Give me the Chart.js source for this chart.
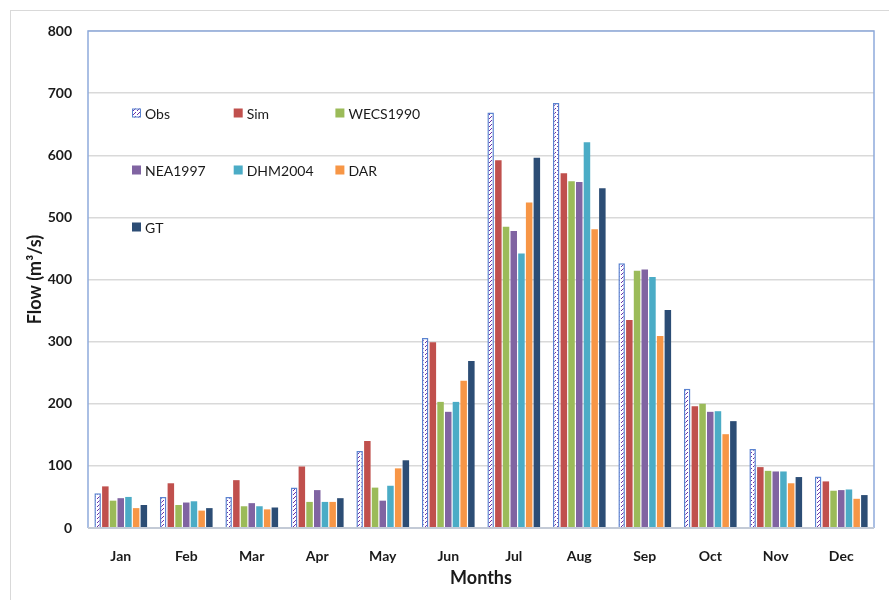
<!DOCTYPE html>
<html>
<head>
<meta charset="utf-8">
<script src="https://cdn.jsdelivr.net/npm/chart.js@4.4.0/dist/chart.umd.min.js"></script>
<style>
    html, body { margin: 0; padding: 0; background: #fff; }
    #wrap { position: relative; width: 889px; height: 600px; overflow: hidden; }
    #frame { position: absolute; left: 10px; top: 10px; width: 900px; height: 620px; border: 1px solid #d9d9d9; }
    canvas { position: absolute; left: 0; top: 0; }
</style>
</head>
<body>
<div id="wrap">
    <div id="frame"></div>
    <canvas id="flowChart" width="889" height="600"></canvas>
</div>
<script>
const months = ['Jan', 'Feb', 'Mar', 'Apr', 'May', 'Jun', 'Jul', 'Aug', 'Sep', 'Oct', 'Nov', 'Dec'];

const obs      = [56, 50, 50, 65, 124, 306, 669, 684, 426, 224, 127, 83];
const sim      = [67, 72, 77, 99, 140, 299, 592, 571, 335, 196, 98, 75];
const wecs1990 = [44, 37, 35, 42, 65, 203, 485, 558, 414, 200, 92, 60];
const nea1997  = [48, 41, 40, 61, 44, 187, 478, 557, 416, 187, 91, 61];
const dhm2004  = [50, 43, 35, 42, 68, 203, 442, 621, 404, 188, 91, 62];
const dar      = [32, 28, 30, 42, 96, 237, 524, 481, 309, 151, 72, 47];
const gt       = [37, 32, 33, 48, 109, 269, 596, 547, 351, 172, 82, 53];

const yTicks = [0, 100, 200, 300, 400, 500, 600, 700, 800];

const FONT = 'Lato, "Open Sans", "DejaVu Sans", sans-serif';

// motif hachuré pour la série observée
function makeObsPattern() {
    const c = document.createElement('canvas');
    c.width = 4;
    c.height = 4;
    const x = c.getContext('2d');
    x.fillStyle = '#ffffff';
    x.fillRect(0, 0, 4, 4);
    x.fillStyle = '#6a2fa8';
    x.fillRect(3, 0, 1, 1);
    x.fillRect(2, 1, 1, 1);
    x.fillRect(1, 2, 1, 1);
    return x.createPattern(c, 'repeat');
}

const ctx = document.getElementById('flowChart').getContext('2d');
const obsPattern = makeObsPattern();

const seriesDefs = [
    { label: 'Obs', data: obs, color: obsPattern, border: '#5b83d0', bw: 1.5 },
    { label: 'Sim', data: sim, color: '#c0504d' },
    { label: 'WECS1990', data: wecs1990, color: '#9bbb59' },
    { label: 'NEA1997', data: nea1997, color: '#8064a2' },
    { label: 'DHM2004', data: dhm2004, color: '#4bacc6' },
    { label: 'DAR', data: dar, color: '#f79646' },
    { label: 'GT', data: gt, color: '#2c4d75' }
];

// légende dessinée à l'intérieur de la zone du graphique, 3 colonnes
const insideLegend = {
    id: 'insideLegend',
    afterDraw(chart) {
        const a = chart.chartArea;
        const c = chart.ctx;
        const x0 = a.left + 44, y0 = a.top + 82;
        const colStep = 101.7, rowStep = 57;
        const box = 9;
        c.save();
        c.font = '14px ' + FONT;
        c.textBaseline = 'middle';
        chart.data.datasets.forEach((ds, i) => {
            const col = i % 3, row = Math.floor(i / 3);
            const x = x0 + col * colStep;
            const y = y0 + row * rowStep;
            c.fillStyle = ds.backgroundColor;
            c.fillRect(x, y - box / 2, box, box);
            if (i === 0) {
                c.strokeStyle = ds.borderColor;
                c.lineWidth = 1;
                c.strokeRect(x + 0.5, y - box / 2 + 0.5, box - 1, box - 1);
            }
            c.fillStyle = '#1a1a1a';
            c.fillText(ds.label, x + box + 4, y + 1);
        });
        c.restore();
    }
};

// cadre bleu de la zone de tracé
const plotFrame = {
    id: 'plotFrame',
    afterDatasetsDraw(chart) {
        const a = chart.chartArea;
        const c = chart.ctx;
        c.save();
        c.strokeStyle = '#8eaadb';
        c.lineWidth = 1.5;
        c.beginPath();
        c.moveTo(a.left, a.bottom);
        c.lineTo(a.left, a.top);
        c.lineTo(a.right, a.top);
        c.lineTo(a.right, a.bottom);
        c.stroke();
        c.strokeStyle = '#c3cad6';
        c.lineWidth = 2;
        c.beginPath();
        c.moveTo(a.left, a.bottom);
        c.lineTo(a.right, a.bottom);
        c.stroke();
        c.restore();
    }
};

new Chart(ctx, {
    type: 'bar',
    data: {
        labels: months,
        datasets: seriesDefs.map(s => ({
            label: s.label,
            data: s.data,
            backgroundColor: s.color,
            borderColor: s.border || s.color,
            borderWidth: s.bw || 0,
            categoryPercentage: 0.823,
            barPercentage: 0.845
        }))
    },
    options: {
        responsive: false,
        animation: false,
        layout: { padding: { left: 0, top: 31, right: 15, bottom: 0 } },
        plugins: {
            legend: { display: false },
            tooltip: { enabled: false }
        },
        scales: {
            x: {
                grid: { display: false, drawTicks: false },
                border: { display: false },
                ticks: {
                    padding: 20,
                    color: '#1a1a1a',
                    font: { family: FONT, size: 14, weight: 'bold' }
                },
                title: {
                    display: true,
                    text: 'Months',
                    color: '#1a1a1a',
                    font: { family: FONT, size: 18, weight: 'bold' },
                    padding: { top: 0, bottom: 11 }
                },
                afterFit: (scale) => { scale.height = 72; }
            },
            y: {
                min: 0,
                max: 800,
                afterBuildTicks: (scale) => { scale.ticks = yTicks.map(v => ({ value: v })); },
                grid: { color: '#d9d9d9', lineWidth: 1.5, drawTicks: false },
                border: { display: false },
                ticks: {
                    padding: 16,
                    color: '#1a1a1a',
                    font: { family: FONT, size: 14, weight: 'bold' }
                },
                title: {
                    display: true,
                    text: 'Flow (m³/s)',
                    color: '#1a1a1a',
                    font: { family: FONT, size: 18, weight: 'bold' },
                    padding: { top: 24, bottom: 0 }
                },
                afterFit: (scale) => { scale.width = 88; }
            }
        }
    },
    plugins: [plotFrame, insideLegend]
});
</script>
</body>
</html>
